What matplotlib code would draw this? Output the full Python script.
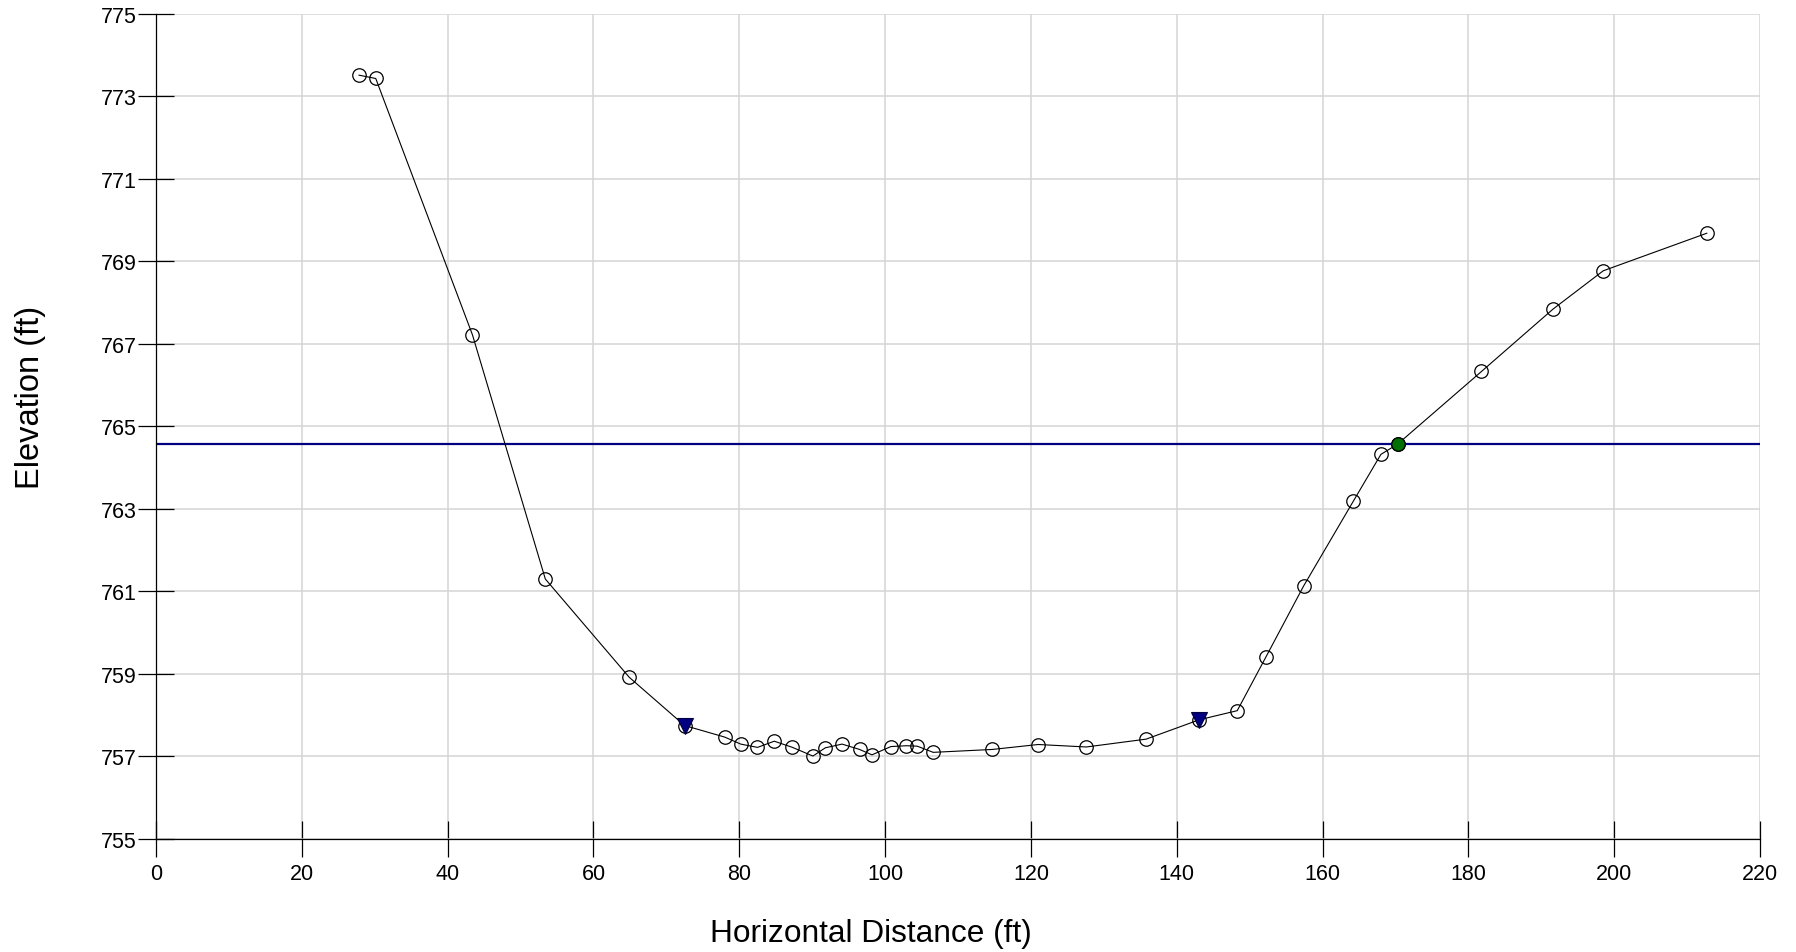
import matplotlib
matplotlib.use("Agg")
import matplotlib.pyplot as plt

plt.rcParams['font.family'] = ['Liberation Sans', 'DejaVu Sans']

# Cross-section survey data
station = [27.85, 30.14, 43.4, 53.4, 64.9, 72.5, 78.0, 80.2, 82.5, 84.8, 87.3, 90.1,
           91.8, 94.1, 96.5, 98.2, 100.8, 102.9, 104.4, 106.6, 114.7, 121.0, 127.6,
           135.8, 143.1, 148.3, 152.2, 157.4, 164.2, 168.0, 170.3, 181.8, 191.6,
           198.5, 212.7]
elevation = [773.51, 773.43, 767.22, 761.30, 758.92, 757.75, 757.47, 757.30, 757.22,
             757.37, 757.22, 757.01, 757.21, 757.30, 757.17, 757.04, 757.24, 757.26,
             757.25, 757.10, 757.17, 757.29, 757.23, 757.42, 757.89, 758.11, 759.40,
             761.13, 763.18, 764.32, 764.57, 766.33, 767.84, 768.77, 769.68]

bank_x = [72.5, 143.1]
bank_y = [757.75, 757.89]

water_surface = 764.57
ws_point_x = [170.3]
ws_point_y = [764.57]

x_ticks = list(range(0, 221, 20))
y_ticks = list(range(755, 776, 2))

fig = plt.figure(figsize=(17.96, 9.53), dpi=100)
ax = fig.add_axes([156/1796, 1 - 840/953, (1760 - 156)/1796, (840 - 14.7)/953])

ax.set_xlim(0, 220)
ax.set_ylim(755, 775)
ax.set_xticks(x_ticks)
ax.set_yticks(y_ticks)
ax.grid(True, color='#d4d4d4', linewidth=1.1, zorder=0)
ax.set_axisbelow(True)

for s in ['top', 'right']:
    ax.spines[s].set_visible(False)
for s in ['left', 'bottom']:
    ax.spines[s].set_linewidth(0.9)
    ax.spines[s].set_color('black')

ax.tick_params(axis='both', direction='inout', length=26, width=0.9,
               labelsize=15.5, colors='black')
ax.tick_params(axis='y', pad=1)
ax.tick_params(axis='x', pad=4)

ax.axhline(water_surface, color='#000080', linewidth=1.6, zorder=2)

ax.plot(station, elevation, color='black', linewidth=0.8, zorder=3)
ax.plot(station, elevation, linestyle='none', marker='o', markersize=9.7,
        markerfacecolor='none', markeredgecolor='black', markeredgewidth=0.9, zorder=4)

ax.plot(bank_x, bank_y, linestyle='none', marker='v', markersize=11,
        markerfacecolor='#000080', markeredgecolor='#000040', markeredgewidth=0.8, zorder=5)

ax.plot(ws_point_x, ws_point_y, linestyle='none', marker='o', markersize=9.7,
        markerfacecolor='#007000', markeredgecolor='black', markeredgewidth=0.9, zorder=5)

fig.text(871/1796, 1 - 934/953, 'Horizontal Distance (ft)', ha='center', va='center',
         fontsize=22.8)
fig.text(31/1796, 1 - 397/953, 'Elevation (ft)', ha='center', va='center',
         rotation=90, fontsize=23.5)

fig.savefig('out.png', dpi=100)
